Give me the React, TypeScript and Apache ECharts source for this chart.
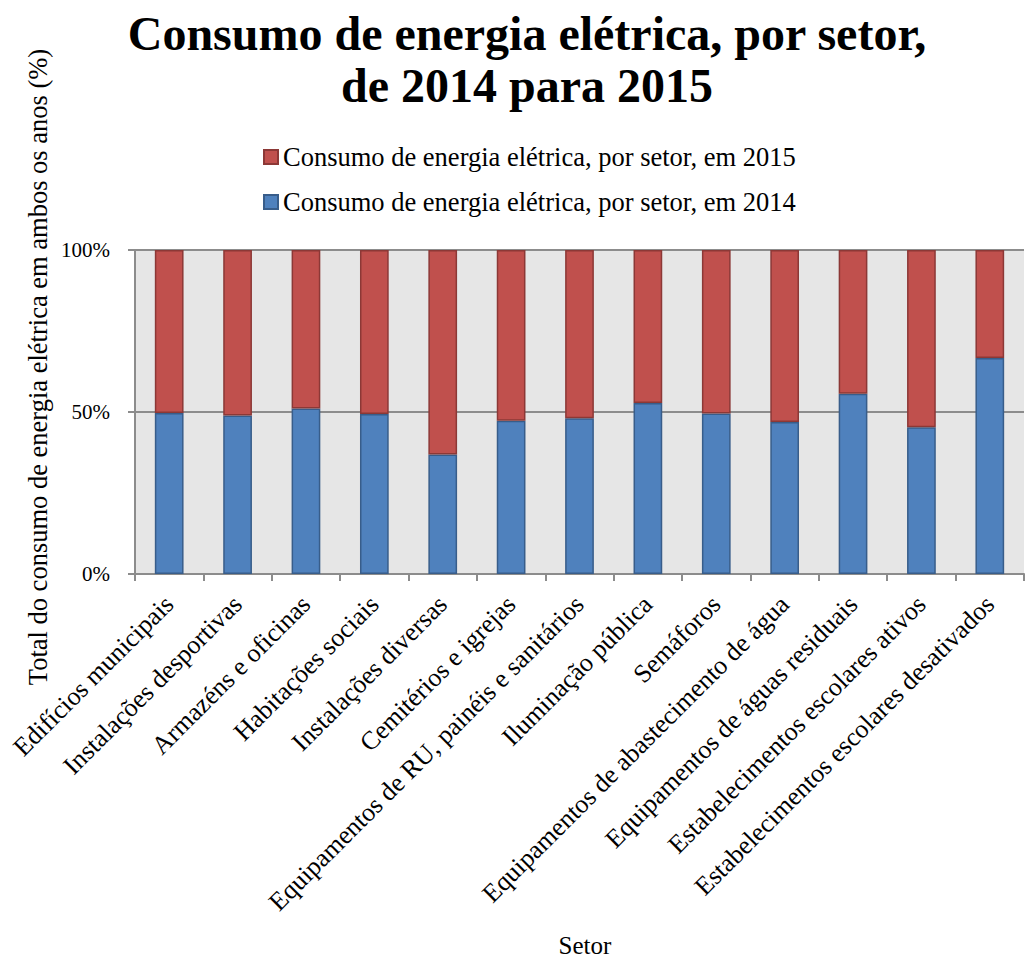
import React, { useEffect, useRef } from "react";
import * as echarts from "echarts";

const categories = [
  "Edifícios municipais",
  "Instalações desportivas",
  "Armazéns e oficinas",
  "Habitações sociais",
  "Instalações diversas",
  "Cemitérios e igrejas",
  "Equipamentos de RU, painéis e sanitários",
  "Iluminação pública",
  "Semáforos",
  "Equipamentos de abastecimento de água",
  "Equipamentos de águas residuais",
  "Estabelecimentos escolares ativos",
  "Estabelecimentos escolares desativados",
];

const share2014 = [49.7, 48.9, 51.1, 49.4, 36.9, 47.3, 48.1, 52.8, 49.5, 46.9, 55.6, 45.3, 66.7];
const share2015 = [50.3, 51.1, 48.9, 50.6, 63.1, 52.7, 51.9, 47.2, 50.5, 53.1, 44.4, 54.7, 33.3];

const name2014 = "Consumo de energia elétrica, por setor, em 2014";
const name2015 = "Consumo de energia elétrica, por setor, em 2015";
const titleText = "Consumo de energia elétrica, por setor,\nde 2014 para 2015";
const yAxisTitle = "Total do consumo de energia elétrica em ambos os anos (%)";
const xAxisTitle = "Setor";

const FONT = "'Liberation Serif', 'Times New Roman', serif";

export default function App() {
  const ref = useRef<HTMLDivElement>(null);
  useEffect(() => {
    if (!ref.current) return;
    const chart = echarts.init(ref.current, null, { renderer: "svg" });
    chart.setOption({
      animation: false,
      backgroundColor: "#ffffff",
      title: {
        text: titleText,
        left: 522,
        textAlign: "center",
        top: 2,
        textStyle: {
          fontFamily: FONT,
          fontSize: 48,
          fontWeight: "bold",
          color: "#000",
          lineHeight: 52,
        },
      },
      legend: {
        orient: "vertical",
        left: 258,
        top: 138,
        itemWidth: 14,
        itemHeight: 14,
        itemGap: 17,
        data: [name2015, name2014],
        textStyle: { fontFamily: FONT, fontSize: 26.5, color: "#000", lineHeight: 28 },
        icon: "rect",
      },
      grid: {
        left: 135,
        right: 1,
        top: 250,
        bottom: 386,
        show: true,
        backgroundColor: "#E6E6E6",
        borderWidth: 0,
      },
      xAxis: {
        type: "category",
        data: categories,
        axisLine: { show: true, lineStyle: { color: "#8C8C8C", width: 2 } },
        axisTick: { show: true, length: 7, lineStyle: { color: "#8C8C8C", width: 2 } },
        axisLabel: {
          interval: 0,
          rotate: 45,
          margin: 26,
          fontFamily: FONT,
          fontSize: 26,
          color: "#000",
        },
      },
      yAxis: {
        type: "value",
        min: 0,
        max: 100,
        interval: 50,
        axisLine: { show: true, lineStyle: { color: "#8C8C8C", width: 2 } },
        axisTick: { show: true, length: 7, lineStyle: { color: "#8C8C8C", width: 2 } },
        splitLine: { show: true, lineStyle: { color: "#8C8C8C", width: 2 } },
        axisLabel: {
          formatter: "{value}%",
          margin: 25,
          fontFamily: FONT,
          fontSize: 21,
          color: "#000",
        },
      },
      series: [
        {
          name: name2014,
          type: "bar",
          stack: "total",
          data: share2014,
          barWidth: "42%",
          itemStyle: { color: "#4F81BD", borderColor: "#385D8A", borderWidth: 1.5 },
        },
        {
          name: name2015,
          type: "bar",
          stack: "total",
          data: share2015,
          barWidth: "42%",
          itemStyle: { color: "#C0504D", borderColor: "#8C3836", borderWidth: 1.5 },
        },
      ],
      graphic: [
        {
          type: "text",
          x: 38,
          y: 367,
          rotation: Math.PI / 2,
          style: {
            text: yAxisTitle,
            fontFamily: FONT,
            fontSize: 26.5,
            fill: "#000",
            align: "center",
            verticalAlign: "middle",
          },
        },
        {
          type: "text",
          x: 585,
          y: 945,
          style: {
            text: xAxisTitle,
            fontFamily: FONT,
            fontSize: 25,
            fill: "#000",
            align: "center",
            verticalAlign: "middle",
          },
        },
      ],
    });
    return () => chart.dispose();
  }, []);
  return (
    <div
      ref={ref}
      style={{ position: "fixed", left: 0, top: 0, width: 1025, height: 960 }}
    />
  );
}
